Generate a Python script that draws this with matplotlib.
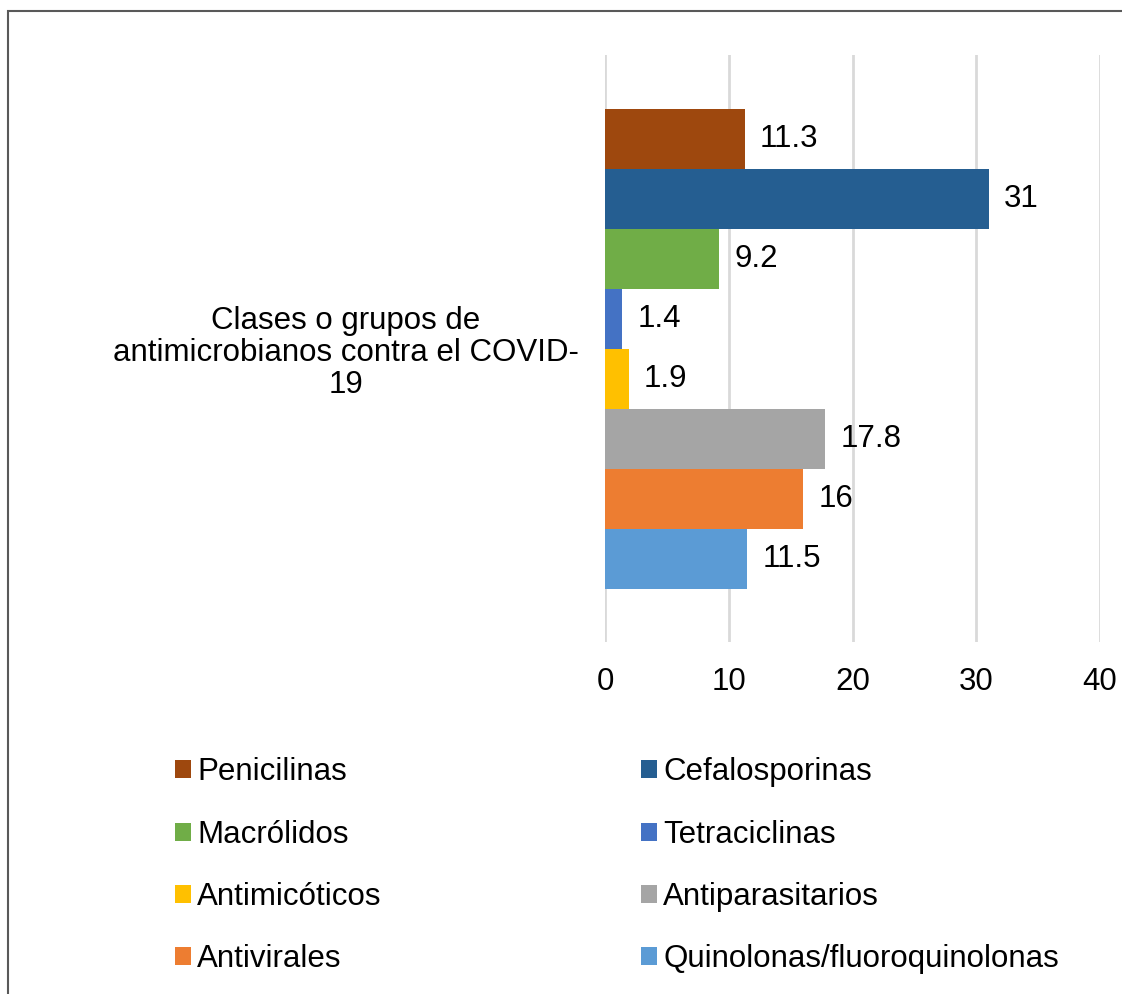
import matplotlib.pyplot as plt
from matplotlib.patches import Rectangle

plt.rcParams['font.family'] = ['Liberation Sans', 'DejaVu Sans']

# datos
grupos = ['Penicilinas', 'Cefalosporinas', 'Macrólidos', 'Tetraciclinas',
          'Antimicóticos', 'Antiparasitarios', 'Antivirales',
          'Quinolonas/fluoroquinolonas']
valores = [11.3, 31, 9.2, 1.4, 1.9, 17.8, 16, 11.5]
etiquetas = ['11.3', '31', '9.2', '1.4', '1.9', '17.8', '16', '11.5']
colores = ['#9E480E', '#255E91', '#70AD47', '#4472C4',
           '#FFC000', '#A5A5A5', '#ED7D31', '#5B9BD5']
categoria = 'Clases o grupos de\nantimicrobianos contra el COVID-\n19'
xticks = [0, 10, 20, 30, 40]

fs = 22.5

fig = plt.figure(figsize=(11.22, 9.94), dpi=100)
ax = fig.add_axes([605/1122, 1 - 642/994, 495/1122, 587/994])

n = len(valores)
handles = []
for i in range(n):
    y = (n - 1) / 2 - i
    b = ax.barh(y, valores[i], height=1.0, color=colores[i], label=grupos[i], zorder=3)
    ax.bar_label(b, labels=[etiquetas[i]], padding=11, fontsize=fs, color='black')
    handles.append(b)

ax.set_xlim(0, 40)
ax.set_ylim(-n / 2 - 0.89, n / 2 + 0.9)
ax.set_xticks(xticks)
ax.set_xticklabels([str(t) for t in xticks], fontsize=fs)
ax.set_yticks([0])
ax.set_yticklabels([categoria], fontsize=fs, multialignment='center', linespacing=1.08)
ax.tick_params(axis='x', length=0, pad=18)
ax.tick_params(axis='y', length=0, pad=19)
ax.grid(axis='x', color='#D9D9D9', linewidth=2, zorder=0)
for s in ax.spines.values():
    s.set_visible(False)

# leyenda en dos columnas (orden por filas como en el original)
orden = [0, 2, 4, 6, 1, 3, 5, 7]
fig.legend([handles[k] for k in orden], [grupos[k] for k in orden],
           ncol=2, loc='upper left', bbox_to_anchor=(0.156, 0.238),
           frameon=False, fontsize=fs, handlelength=0.51, handleheight=0.51,
           handletextpad=0.2, columnspacing=8.3, labelspacing=1.03,
           borderpad=0, borderaxespad=0)

# marco
fig.add_artist(Rectangle((8/1122, -0.1), 1.2, 1 - 11/994 + 0.1,
                         transform=fig.transFigure, fill=False,
                         edgecolor='#595959', linewidth=1.5))

fig.savefig('out.png', dpi=100)
